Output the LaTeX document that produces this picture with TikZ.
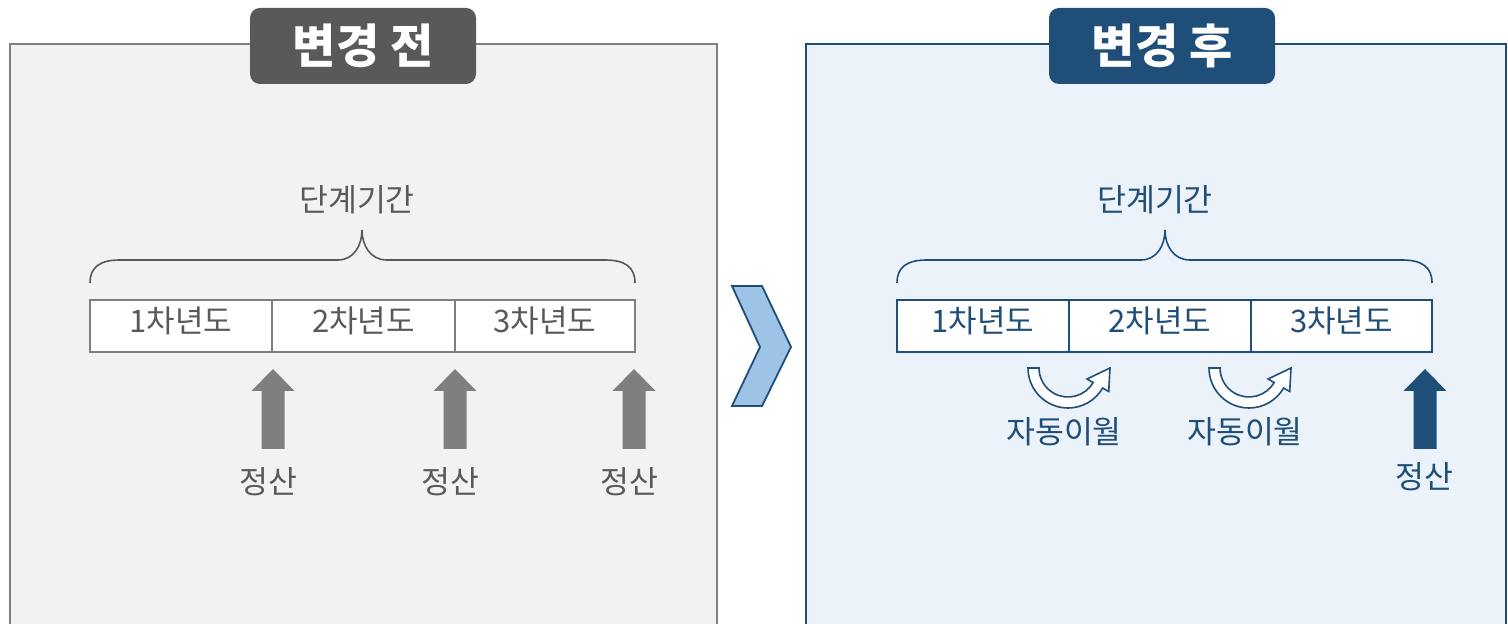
\documentclass[tikz,border=0pt]{standalone}
\usepackage{fontspec}
\setmainfont{Noto Sans CJK KR}
\usetikzlibrary{positioning}
\definecolor{beforegray}{HTML}{7F7F7F}
\definecolor{beforedark}{HTML}{595959}
\definecolor{beforebg}{HTML}{F2F2F2}
\definecolor{afterblue}{HTML}{1F4E79}
\definecolor{afterbg}{HTML}{EBF2FA}
\definecolor{chevblue}{HTML}{9DC3E6}

\begin{document}
\begin{tikzpicture}[x=0.5pt,y=0.5pt,
    panel/.style={line width=1.25pt},
    header/.style={rounded corners=5pt,minimum width=113pt,minimum height=38pt,
        text=white,font=\fontsize{23.5}{27}\selectfont\bfseries},
    label/.style={font=\fontsize{15.7}{18}\selectfont},
    cell/.style={draw,fill=white,line width=0.8pt,minimum height=26pt,outer sep=0pt,
        text height=13pt,text depth=6pt,inner ysep=0pt,font=\fontsize{15.5}{18}\selectfont},
    brace/.style={line width=0.8pt}]
    \clip (0,0) rectangle (1508,-624);

    % Before panel
    \draw[panel,draw=beforegray,fill=beforebg] (10,-44) rectangle (717,-650);
    \node[header,fill=beforedark] (hbefore) at (363,-46) {변경 전};
    \node[label,text=beforedark] (pbefore) at (357,-200) {단계기간};
    \draw[brace,beforedark] (90,-283) .. controls (90,-267) and (100,-260) .. (120,-260)
        -- (338,-260) .. controls (354,-260) and (362,-245) .. (362,-230)
        .. controls (362,-245) and (370,-260) .. (387,-260)
        -- (605,-260) .. controls (625,-260) and (635,-267) .. (635,-283);
    \node[cell,draw=beforegray,text=beforedark,minimum width=91pt,anchor=west] (b1) at (90,-326) {1차년도};
    \node[cell,draw=beforegray,text=beforedark,minimum width=91.5pt,right=0pt of b1] (b2) {2차년도};
    \node[cell,draw=beforegray,text=beforedark,minimum width=90pt,right=0pt of b2] (b3) {3차년도};
    % settlement arrows
    \foreach \x/\n in {273/1,455/2,634/3} {
        \fill[beforegray] (\x-11.5,-449) -- (\x-11.5,-391) -- (\x-21.5,-391) -- (\x,-369)
            -- (\x+21.5,-391) -- (\x+11.5,-391) -- (\x+11.5,-449) -- cycle;
        \node[label,text=beforedark] (sb\n) at (\x-5,-482) {정산};
    }

    % Chevron
    \draw[line width=0.9pt,draw=afterblue,fill=chevblue,line join=miter]
        (732,-286) -- (762,-286) -- (791,-347) -- (762,-406) -- (732,-406) -- (760,-347) -- cycle;

    % After panel
    \draw[panel,draw=afterblue,fill=afterbg] (806,-44) rectangle (1506,-650);
    \node[header,fill=afterblue] (hafter) at (1162,-46) {변경 후};
    \node[label,text=afterblue] (pafter) at (1155,-200) {단계기간};
    \draw[brace,afterblue] (897,-283) .. controls (897,-267) and (907,-260) .. (927,-260)
        -- (1141,-260) .. controls (1157,-260) and (1165,-245) .. (1165,-230)
        .. controls (1165,-245) and (1173,-260) .. (1190,-260)
        -- (1402,-260) .. controls (1422,-260) and (1432,-267) .. (1432,-283);
    \node[cell,draw=afterblue,text=afterblue,minimum width=86pt,anchor=west] (a1) at (897,-326) {1차년도};
    \node[cell,draw=afterblue,text=afterblue,minimum width=91pt,right=0pt of a1] (a2) {2차년도};
    \node[cell,draw=afterblue,text=afterblue,minimum width=90.5pt,right=0pt of a2] (a3) {3차년도};
    % carry-over arrows
    \foreach \x/\n in {1068/1,1249/2} {
        \begin{scope}[shift={(\x,-368)}]
            \draw[afterblue,fill=white,line width=0.8pt,line join=miter]
                (180:20pt) arc[start angle=180,end angle=330,radius=20pt] -- (330:23.5pt)
                -- (21pt,0pt) -- (330:11pt) -- (330:14.5pt)
                arc[start angle=330,end angle=180,radius=14.5pt] -- cycle;
        \end{scope}
        \node[label,text=afterblue] (c\n) at (\x-4,-432) {자동이월};
    }
    % settlement arrow
    \fill[afterblue] (1413.5,-449) -- (1413.5,-391) -- (1403.5,-391) -- (1425,-369)
        -- (1446.5,-391) -- (1436.5,-391) -- (1436.5,-449) -- cycle;
    \node[label,text=afterblue] (sa) at (1424,-477) {정산};
\end{tikzpicture}
\end{document}
